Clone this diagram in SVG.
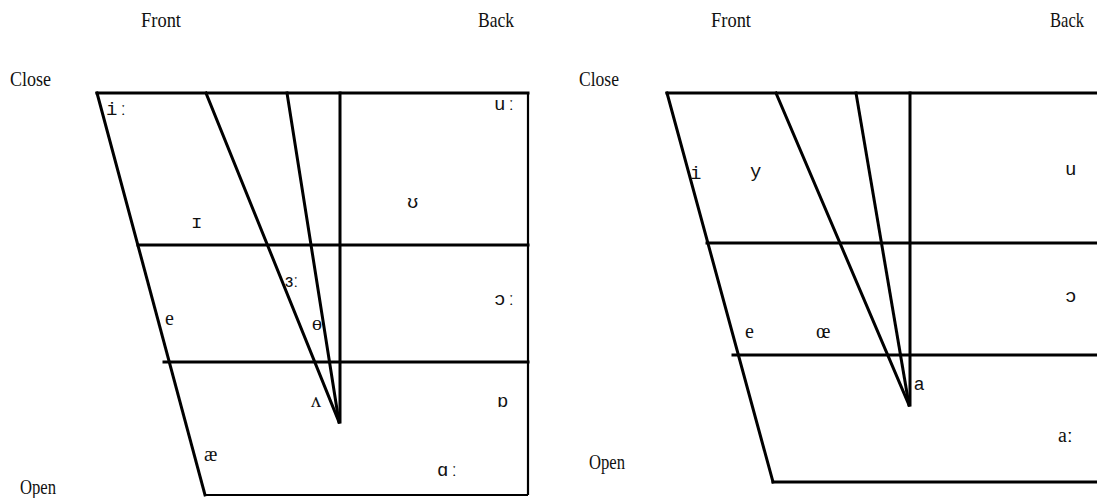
<svg xmlns="http://www.w3.org/2000/svg" width="1097" height="498" viewBox="0 0 1097 498">
<style>
.ln{stroke:#000;stroke-width:3;fill:none;stroke-linecap:square}
.thin{stroke:#000;stroke-width:2.2;fill:none}
.hd{font-family:"Liberation Serif","DejaVu Serif",serif;font-size:22px;fill:#111}
.mono{font-family:"Liberation Mono","DejaVu Sans Mono",monospace;font-size:19px;fill:#111}
.ser{font-family:"Liberation Serif","DejaVu Serif",serif;font-size:20px;fill:#111}
.sans{font-family:"Liberation Sans","DejaVu Sans",sans-serif;font-size:18px;fill:#111}
</style>
<rect width="1097" height="498" fill="#fff"/>

<g id="left-chart">
  <g id="left-lines">
    <line class="ln" x1="97" y1="93" x2="528" y2="93"/>
    <line class="ln" x1="97" y1="93" x2="205" y2="495"/>
    <line class="ln" x1="138" y1="245" x2="528" y2="245"/>
    <line class="ln" x1="164" y1="362" x2="528" y2="362"/>
    <line class="thin" x1="205" y1="495" x2="528" y2="495"/>
    <line class="thin" x1="528" y1="93" x2="528" y2="495"/>
    <line class="ln" x1="340" y1="93" x2="340" y2="422"/>
    <line class="ln" x1="206" y1="93" x2="339" y2="422"/>
    <line class="ln" x1="287" y1="93" x2="339" y2="422"/>
  </g>
  <g id="left-labels">
    <text class="hd" x="141" y="27" textLength="40" lengthAdjust="spacingAndGlyphs">Front</text>
    <text class="hd" x="478" y="27" textLength="36" lengthAdjust="spacingAndGlyphs">Back</text>
    <text class="hd" x="10" y="86" textLength="41" lengthAdjust="spacingAndGlyphs">Close</text>
    <text class="hd" x="20" y="494" textLength="36" lengthAdjust="spacingAndGlyphs">Open</text>
    <text class="mono" x="106" y="115">iː</text>
    <text class="mono" x="494" y="110">uː</text>
    <text class="mono" x="191" y="228">ɪ</text>
    <text class="mono" x="407" y="208">ʊ</text>
    <text class="sans" x="285" y="287">ɜː</text>
    <text class="mono" x="494" y="305">ɔː</text>
    <text class="ser" x="165" y="325">e</text>
    <text class="ser" x="312" y="330">ɵ</text>
    <text class="ser" x="311" y="407">ʌ</text>
    <text class="mono" x="497" y="407">ɒ</text>
    <text class="ser" x="204" y="461">æ</text>
    <text class="mono" x="437" y="476">ɑː</text>
  </g>
</g>

<g id="right-chart">
  <g id="right-lines">
    <line class="ln" x1="667" y1="93" x2="1097" y2="93"/>
    <line class="ln" x1="667" y1="93" x2="773" y2="482"/>
    <line class="ln" x1="707" y1="243" x2="1097" y2="243"/>
    <line class="ln" x1="733" y1="355" x2="1097" y2="355"/>
    <line class="ln" x1="773" y1="482" x2="1097" y2="482"/>
    <line class="ln" x1="910" y1="93" x2="910" y2="405"/>
    <line class="ln" x1="776" y1="93" x2="909" y2="405"/>
    <line class="ln" x1="856" y1="93" x2="909" y2="405"/>
  </g>
  <g id="right-labels">
    <text class="hd" x="711" y="27" textLength="40" lengthAdjust="spacingAndGlyphs">Front</text>
    <text class="hd" x="1050" y="27" textLength="34" lengthAdjust="spacingAndGlyphs">Back</text>
    <text class="hd" x="579" y="86" textLength="40" lengthAdjust="spacingAndGlyphs">Close</text>
    <text class="hd" x="589" y="469" textLength="36" lengthAdjust="spacingAndGlyphs">Open</text>
    <text class="mono" x="690" y="179">i</text>
    <text class="mono" x="750" y="177">y</text>
    <text class="mono" x="1065" y="175">u</text>
    <text class="mono" x="1065" y="302">ɔ</text>
    <text class="ser" x="745" y="338">e</text>
    <text class="ser" x="816" y="338">œ</text>
    <text class="sans" x="914" y="390">a</text>
    <text class="ser" x="1058" y="442">aː</text>
  </g>
</g>
</svg>
